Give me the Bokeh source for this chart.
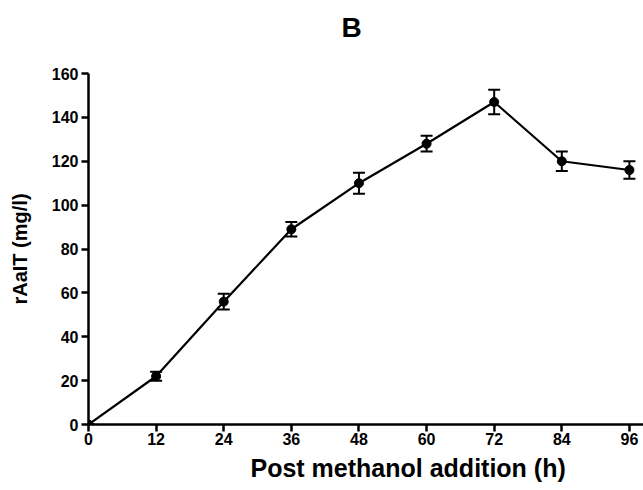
from bokeh.plotting import figure
from bokeh.models import ColumnDataSource, Whisker, TeeHead, Range1d, FixedTicker, Title
from bokeh.embed import file_html
from bokeh.resources import INLINE

hours = [0, 12, 24, 36, 48, 60, 72, 84, 96]
conc = [0, 22, 56, 89, 110, 128, 147, 120, 116]
err = [0, 2, 3.6, 3.3, 4.8, 3.6, 5.6, 4.4, 4.0]
x_ticks = [0, 12, 24, 36, 48, 60, 72, 84, 96]
y_ticks = [0, 20, 40, 60, 80, 100, 120, 140, 160]
title_text = "B"
x_label = "Post methanol addition (h)"
y_label = "rAaIT (mg/l)"

FONT = "Liberation Sans"

src = ColumnDataSource(dict(
    x=hours, y=conc,
    upper=[c + e for c, e in zip(conc, err)],
    lower=[c - e for c, e in zip(conc, err)],
))

p = figure(width=643, height=490, output_backend="svg", toolbar_location=None,
           x_range=Range1d(0, 98.5), y_range=Range1d(0, 160),
           title=title_text + "\n", min_border_left=88, min_border_top=73,
           min_border_right=0, min_border_bottom=66)

p.title.align = "left"
p.title.offset = 253
p.title.vertical_align = "bottom"
p.title.standoff = 0
p.title.text_font = FONT
p.title.text_font_size = "28px"
p.title.text_font_style = "bold"
p.title.text_color = "black"

p.outline_line_color = None
p.xgrid.visible = False
p.ygrid.visible = False
p.background_fill_color = "white"
p.border_fill_color = "white"

for ax in (p.xaxis, p.yaxis):
    ax.axis_line_width = 2.5
    ax.axis_line_color = "black"
    ax.major_tick_line_width = 2.5
    ax.major_tick_line_color = "black"
    ax.major_tick_in = 0
    ax.major_tick_out = 7
    ax.minor_tick_line_color = None
    ax.major_label_text_font = FONT
    ax.major_label_text_font_style = "bold"
    ax.major_label_text_font_size = "16px"
    ax.major_label_text_color = "black"
    ax.axis_label_text_font = FONT
    ax.axis_label_text_font_style = "bold"
    ax.axis_label_text_color = "black"

p.yaxis.axis_label_text_font_size = "20px"
p.xaxis.ticker = FixedTicker(ticks=x_ticks)
p.yaxis.ticker = FixedTicker(ticks=y_ticks)
p.xaxis.major_label_standoff = 1
p.yaxis.major_label_standoff = 3
p.yaxis.axis_label = y_label
p.yaxis.axis_label_standoff = 18

xlab = Title(text=x_label, align="left", offset=162, vertical_align="bottom",
             standoff=9, text_font=FONT, text_font_size="25px",
             text_font_style="bold", text_color="black")
p.add_layout(xlab, "below")

p.line("x", "y", source=src, line_color="black", line_width=2.2)
w = Whisker(source=src, base="x", upper="upper", lower="lower",
            line_color="black", line_width=2,
            upper_head=TeeHead(size=12, line_width=2, line_color="black"),
            lower_head=TeeHead(size=12, line_width=2, line_color="black"))
p.add_layout(w)
p.scatter("x", "y", source=src, size=9, marker="circle",
          fill_color="black", line_color="black")

open("out.html", "w").write(file_html(p, INLINE))
